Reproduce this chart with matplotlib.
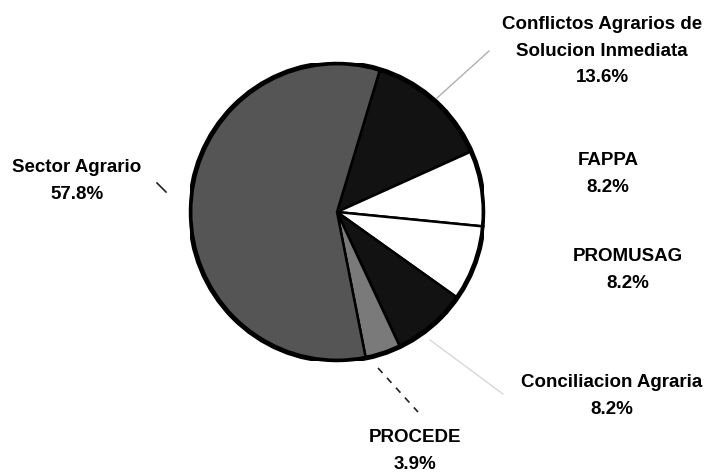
import matplotlib
matplotlib.use("Agg")
import matplotlib.pyplot as plt
from matplotlib.patches import Ellipse

categories = ["Conflictos Agrarios de\nSolucion Inmediata", "FAPPA", "PROMUSAG",
              "Conciliacion Agraria", "PROCEDE", "Sector Agrario"]
values = [13.6, 8.2, 8.2, 8.2, 3.9, 57.8]
pct_labels = ["13.6%", "8.2%", "8.2%", "8.2%", "3.9%", "57.8%"]
colors = ["#121212", "#ffffff", "#ffffff", "#121212", "#7a7a7a", "#555555"]

W, H = 707, 474
fig = plt.figure(figsize=(W / 100, H / 100), dpi=100)
fig.patch.set_facecolor("white")

cx, cy, rx, ry = 337, 212, 147, 149
ax = fig.add_axes([(cx - rx) / W, (H - cy - ry) / H, 2 * rx / W, 2 * ry / H])
ax.pie(values, colors=colors, startangle=73, counterclock=False,
       radius=1.0, wedgeprops=dict(edgecolor="black", linewidth=1.8))
ax.add_patch(Ellipse((0, 0), 2.0, 2.0, fill=False, edgecolor="black", linewidth=3.5))
ax.set_xlim(-1.0, 1.0)
ax.set_ylim(-1.0, 1.0)
ax.set_aspect("auto")
ax.axis("off")

fam = ["Liberation Sans", "DejaVu Sans"]

def px(x, y):
    return x / W, 1 - y / H

label_pos = [(602, 51), (608, 174), (628, 270), (612, 396), (415, 451), (77, 181)]
for cat, pct, (x, y) in zip(categories, pct_labels, label_pos):
    fx, fy = px(x, y)
    fig.text(fx, fy, cat + "\n" + pct, ha="center", va="center", fontsize=13.5,
             fontweight="bold", family=fam, linespacing=1.75, color="black")

# leader lines (figure pixel coords)
lines = [((437, 98), (489, 51), "#b0b0b0", "-", 1.0),
         ((430, 340), (503, 394), "#d8d8d8", "-", 1.0),
         ((157, 183), (166, 192), "#222222", "-", 1.2),
         ((378, 368), (418, 412), "#222222", (0, (4, 4)), 1.2)]
for (x0, y0), (x1, y1), c, ls, lw in lines:
    a = px(x0, y0)
    b = px(x1, y1)
    fig.add_artist(plt.Line2D([a[0], b[0]], [a[1], b[1]], color=c,
                              linestyle=ls, linewidth=lw, transform=fig.transFigure))

fig.savefig("out.png", dpi=100)
